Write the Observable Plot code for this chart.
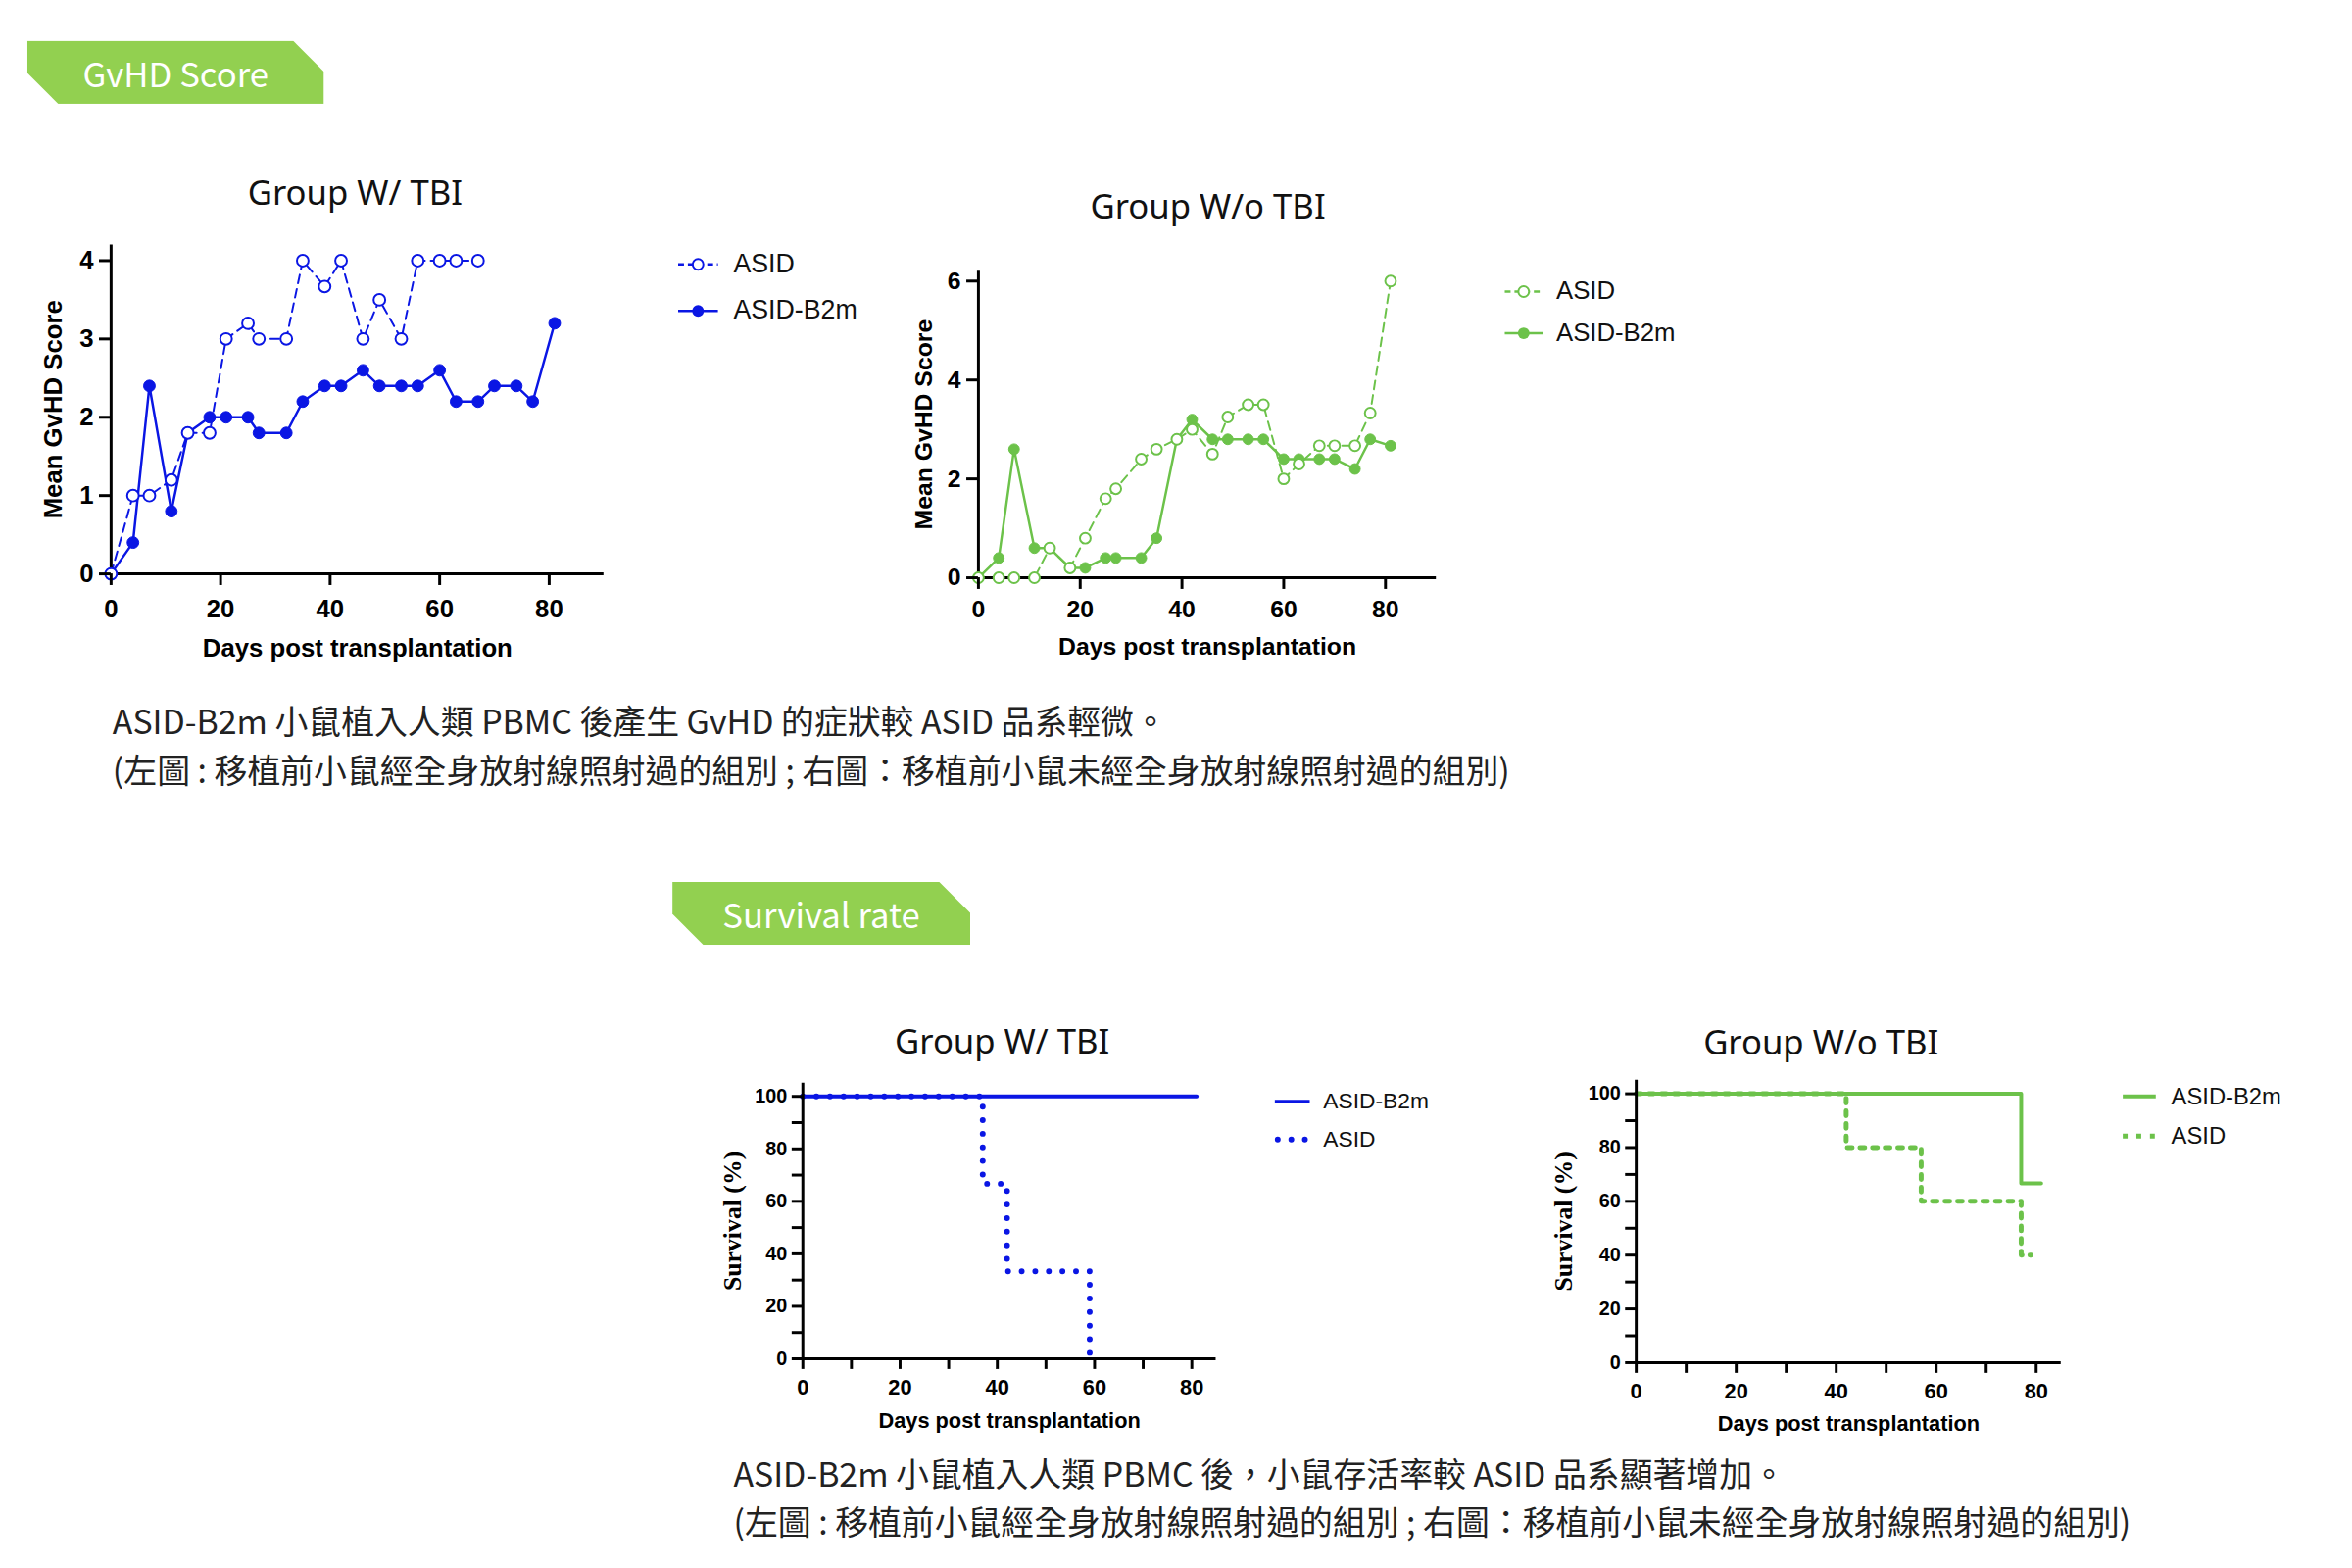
<!DOCTYPE html>
<html>
<head>
<meta charset="utf-8">
<script src="https://cdn.jsdelivr.net/npm/d3@7"></script>
<script src="https://cdn.jsdelivr.net/npm/@observablehq/plot@0.6"></script>
<style>
  body { margin: 0; background: #fff; }
  #root { position: relative; width: 2400px; height: 1600px; overflow: hidden; background: #fff; transform: scale(0.99); transform-origin: 0 0; }
  .abs { position: absolute; }
  .badge { position: absolute; background: #92d050; color: #fff; font-family: "Noto Sans CJK TC", "Noto Sans", sans-serif; font-size: 35px;
    display: flex; align-items: center; justify-content: center;
    clip-path: polygon(0 0, calc(100% - 32px) 0, 100% 32px, 100% 100%, 32px 100%, 0 calc(100% - 32px)); }
  .title { position: absolute; transform: translate(-50%, -50%); font-family: "Noto Sans", sans-serif; font-size: 35px; color: #111; white-space: nowrap; }
  .caption { position: absolute; font-family: "Noto Sans CJK TC", sans-serif; font-size: 34.2px; color: #222; white-space: nowrap; line-height: 50px; }
  .lrow { position: absolute; display: flex; align-items: center; white-space: nowrap; transform: translateY(-50%); font-family: "Liberation Sans", Arial, sans-serif; color: #111; }
</style>
</head>
<body>
<div id="root"></div>
<script>
// ---------------- DATA ----------------
const xTicks = [0, 20, 40, 60, 80];
const xMinorTicks = [10, 30, 50, 70];

// GvHD score, Group W/ TBI
const tbiAsidDays  = [0, 4, 7, 11, 14, 18, 21, 25, 27, 32, 35, 39, 42, 46, 49, 53, 56, 60, 63, 67];
const tbiAsidScore = [0, 1, 1, 1.2, 1.8, 1.8, 3, 3.2, 3, 3, 4, 3.67, 4, 3, 3.5, 3, 4, 4, 4, 4];
const tbiB2mDays   = [0, 4, 7, 11, 14, 18, 21, 25, 27, 32, 35, 39, 42, 46, 49, 53, 56, 60, 63, 67, 70, 74, 77, 81];
const tbiB2mScore  = [0, 0.4, 2.4, 0.8, 1.8, 2, 2, 2, 1.8, 1.8, 2.2, 2.4, 2.4, 2.6, 2.4, 2.4, 2.4, 2.6, 2.2, 2.2, 2.4, 2.4, 2.2, 3.2];
const tbiYTicks = [0, 1, 2, 3, 4];

// GvHD score, Group W/o TBI
const noTbiDays      = [0, 4, 7, 11, 14, 18, 21, 25, 27, 32, 35, 39, 42, 46, 49, 53, 56, 60, 63, 67, 70, 74, 77, 81];
const noTbiAsidScore = [0, 0, 0, 0, 0.6, 0.2, 0.8, 1.6, 1.8, 2.4, 2.6, 2.8, 3.0, 2.5, 3.25, 3.5, 3.5, 2.0, 2.3, 2.67, 2.67, 2.67, 3.33, 6];
const noTbiB2mScore  = [0, 0.4, 2.6, 0.6, 0.6, 0.2, 0.2, 0.4, 0.4, 0.4, 0.8, 2.8, 3.2, 2.8, 2.8, 2.8, 2.8, 2.4, 2.4, 2.4, 2.4, 2.2, 2.8, 2.67];
const noTbiYTicks = [0, 2, 4, 6];

// Survival, Group W/ TBI
const survTbiB2mDays  = [0, 81];
const survTbiB2mPct   = [100, 100];
const survTbiAsidDays = [0, 37, 42, 59];
const survTbiAsidPct  = [100, 66.7, 33.3, 0];

// Survival, Group W/o TBI
const survNoTbiB2mDays  = [0, 77, 81];
const survNoTbiB2mPct   = [100, 66.7, 66.7];
const survNoTbiAsidDays = [0, 42, 57, 77, 79];
const survNoTbiAsidPct  = [100, 80, 60, 40, 40];

const survYTicks = [0, 20, 40, 60, 80, 100];
const survYMinorTicks = [10, 30, 50, 70, 90];

const seriesNames = ["ASID", "ASID-B2m"];
const blue = "#0a16e4";
const green = "#6cc24a";

const texts = {
  badge1: "GvHD Score",
  badge2: "Survival rate",
  titleTbi: "Group W/ TBI",
  titleNoTbi: "Group W/o TBI",
  xLabel: "Days post transplantation",
  gvhdY: "Mean GvHD Score",
  survY: "Survival (%)",
  cap1a: "ASID-B2m 小鼠植入人類 PBMC 後產生 GvHD 的症狀較 ASID 品系輕微。",
  cap1b: "(左圖 : 移植前小鼠經全身放射線照射過的組別 ; 右圖：移植前小鼠未經全身放射線照射過的組別)",
  cap2a: "ASID-B2m 小鼠植入人類 PBMC 後，小鼠存活率較 ASID 品系顯著增加。",
  cap2b: "(左圖 : 移植前小鼠經全身放射線照射過的組別 ; 右圖：移植前小鼠未經全身放射線照射過的組別)"
};

// ---------------- HELPERS ----------------
const root = document.getElementById("root");
const zip = (xs, ys) => xs.map((d, i) => ({day: d, value: ys[i]}));
const intFmt = d3.format("d");

function place(node, left, top) {
  const div = document.createElement("div");
  div.className = "abs";
  div.style.left = left + "px";
  div.style.top = top + "px";
  div.appendChild(node);
  root.appendChild(div);
}
function badge(text, left, top, w, h) {
  const d = document.createElement("div");
  d.className = "badge";
  Object.assign(d.style, {left: left + "px", top: top + "px", width: w + "px", height: h + "px"});
  d.textContent = text;
  root.appendChild(d);
}
function title(text, cx, cy) {
  const d = document.createElement("div");
  d.className = "title";
  Object.assign(d.style, {left: cx + "px", top: cy + "px"});
  d.textContent = text;
  root.appendChild(d);
}
function caption(lines, left, top) {
  const d = document.createElement("div");
  d.className = "caption";
  Object.assign(d.style, {left: left + "px", top: top + "px"});
  d.innerHTML = lines.map(l => `<div>${l}</div>`).join("");
  root.appendChild(d);
}
function legendRow(symbolSvg, label, left, cy, symW, gap, fontSize) {
  const d = document.createElement("div");
  d.className = "lrow";
  Object.assign(d.style, {left: left + "px", top: cy + "px", fontSize: fontSize + "px"});
  d.innerHTML = `<svg width="${symW}" height="20" style="margin-right:${gap}px;overflow:visible">${symbolSvg}</svg><span>${label}</span>`;
  root.appendChild(d);
}
function markerSym(w, color, open) {
  const dash = open ? `stroke-dasharray="6,4"` : "";
  const c = open ? `<circle cx="${w/2}" cy="10" r="5.5" fill="#fff" stroke="${color}" stroke-width="2"/>`
                 : `<circle cx="${w/2}" cy="10" r="6" fill="${color}"/>`;
  return `<line x1="0" x2="${w}" y1="10" y2="10" stroke="${color}" stroke-width="2.5" ${dash}/>` + c;
}
function lineSym(w, color, kind) {
  if (kind === "solid") return `<line x1="0" x2="${w}" y1="10" y2="10" stroke="${color}" stroke-width="4"/>`;
  if (kind === "round") return `<line x1="3" x2="${w}" y1="10" y2="10" stroke="${color}" stroke-width="6" stroke-linecap="round" stroke-dasharray="0,14"/>`;
  return `<line x1="0" x2="${w}" y1="10" y2="10" stroke="${color}" stroke-width="5" stroke-dasharray="5,9"/>`;
}

function gvhdPlot(o) {
  const asid = zip(o.asidDays, o.asidScore);
  const b2m = zip(o.b2mDays, o.b2mScore);
  return Plot.plot({
    width: o.width, height: o.height,
    marginLeft: o.ml, marginRight: o.mr, marginTop: o.mt, marginBottom: o.mb,
    style: {fontFamily: "Liberation Sans, Arial, sans-serif", fontWeight: "bold", fontSize: o.fontSize + "px", color: "#000", background: "transparent", overflow: "visible"},
    x: {domain: [0, 90]},
    y: {domain: [0, o.yMax]},
    marks: [
      Plot.line(b2m, {x: "day", y: "value", stroke: o.color, strokeWidth: 2.5}),
      Plot.line(asid, {x: "day", y: "value", stroke: o.color, strokeWidth: 2, strokeDasharray: "9,6"}),
      Plot.ruleY([0], {strokeWidth: 3}),
      Plot.ruleX([0], {strokeWidth: 3}),
      Plot.dot(b2m, {x: "day", y: "value", r: o.r, fill: o.color, stroke: o.color, strokeWidth: 1}),
      Plot.dot(asid, {x: "day", y: "value", r: o.r, fill: "#fff", stroke: o.color, strokeWidth: 2}),
      Plot.axisX({ticks: xTicks, tickFormat: intFmt, tickSize: 12, tickPadding: o.xPad, strokeWidth: 3,
        label: texts.xLabel, labelAnchor: "center", labelArrow: "none", labelOffset: o.xLabelOffset}),
      Plot.axisY({ticks: o.yTicks, tickFormat: intFmt, tickSize: 12, tickPadding: 6, strokeWidth: 3,
        label: texts.gvhdY, labelAnchor: "center", labelArrow: "none", labelOffset: o.yLabelOffset})
    ]
  });
}

function survPlot(o) {
  const b2m = zip(o.b2mDays, o.b2mPct);
  const asid = zip(o.asidDays, o.asidPct);
  const asidStyle = o.dotStyle === "round"
    ? {strokeWidth: 6, strokeLinecap: "round", strokeDasharray: "0,14"}
    : {strokeWidth: 5, strokeDasharray: "5,8"};
  return Plot.plot({
    width: o.width, height: o.height,
    marginLeft: o.ml, marginRight: o.mr, marginTop: o.mt, marginBottom: o.mb,
    style: {fontFamily: "Liberation Sans, Arial, sans-serif", fontWeight: "bold", fontSize: "20px", color: "#000", background: "transparent", overflow: "visible"},
    x: {domain: [0, 85]},
    y: {domain: [0, 105]},
    marks: [
      Plot.line(b2m, {x: "day", y: "value", curve: "step-after", stroke: o.color, strokeWidth: 4}),
      Plot.line(asid, {x: "day", y: "value", curve: "step-after", stroke: o.color, ...asidStyle}),
      Plot.ruleY([0], {strokeWidth: 3}),
      Plot.ruleX([0], {strokeWidth: 3}),
      Plot.axisX({ticks: xTicks, tickFormat: intFmt, tickSize: 11, tickPadding: 10, strokeWidth: 3,
        label: texts.xLabel, labelAnchor: "center", labelArrow: "none", labelOffset: o.xLabelOffset, fontSize: 22}),
      Plot.axisX({ticks: xMinorTicks, tickSize: 11, strokeWidth: 3, tickFormat: () => "", label: null}),
      Plot.axisY({ticks: survYTicks, tickFormat: intFmt, tickSize: 11, tickPadding: 5, strokeWidth: 3, label: null}),
      Plot.axisY({ticks: survYMinorTicks, tickSize: 11, strokeWidth: 3, tickFormat: () => "", label: null}),
      Plot.axisY({ticks: [], label: texts.survY, labelAnchor: "center", labelArrow: "none", labelOffset: o.yLabelOffset,
        fontFamily: "Liberation Serif, Times New Roman, serif", fontSize: 26})
    ]
  });
}

// ---------------- LAYOUT ----------------
badge(texts.badge1, 28, 42, 306, 65);
badge(texts.badge2, 693, 909, 307, 65);

title(texts.titleTbi, 366, 198);
title(texts.titleNoTbi, 1245, 212);
title(texts.titleTbi, 1033, 1072);
title(texts.titleNoTbi, 1877, 1073);

place(gvhdPlot({width: 700, height: 480, ml: 114, mr: 78, mt: 22, mb: 119, yMax: 4.2, yTicks: tbiYTicks,
  color: blue, r: 6, fontSize: 26, xPad: 14, xLabelOffset: 85, yLabelOffset: 69,
  asidDays: tbiAsidDays, asidScore: tbiAsidScore, b2mDays: tbiB2mDays, b2mScore: tbiB2mScore}), 0, 230);

place(gvhdPlot({width: 640, height: 480, ml: 118, mr: 50, mt: 39, mb: 125, yMax: 6.2, yTicks: noTbiYTicks,
  color: green, r: 5.5, fontSize: 25, xPad: 11, xLabelOffset: 79, yLabelOffset: 66,
  asidDays: noTbiDays, asidScore: noTbiAsidScore, b2mDays: noTbiDays, b2mScore: noTbiB2mScore}), 890, 240);

place(survPlot({width: 620, height: 420, ml: 147, mr: 47, mt: 26, mb: 110, color: blue, dotStyle: "round",
  xLabelOffset: 71, yLabelOffset: 82,
  b2mDays: survTbiB2mDays, b2mPct: survTbiB2mPct, asidDays: survTbiAsidDays, asidPct: survTbiAsidPct}), 680, 1090);

place(survPlot({width: 620, height: 420, ml: 146, mr: 36, mt: 23, mb: 106, color: green, dotStyle: "square",
  xLabelOffset: 70, yLabelOffset: 85,
  b2mDays: survNoTbiB2mDays, b2mPct: survNoTbiB2mPct, asidDays: survNoTbiAsidDays, asidPct: survNoTbiAsidPct}), 1540, 1090);

// legends
legendRow(markerSym(41, blue, true), seriesNames[0], 699, 272, 41, 16, 27);
legendRow(markerSym(41, blue, false), seriesNames[1], 699, 320, 41, 16, 27);
legendRow(markerSym(39, green, true), seriesNames[0], 1551, 300, 39, 14, 26);
legendRow(markerSym(39, green, false), seriesNames[1], 1551, 343, 39, 14, 26);

legendRow(lineSym(36, blue, "solid"), seriesNames[1], 1314, 1135, 36, 14, 23);
legendRow(lineSym(36, blue, "round"), seriesNames[0], 1314, 1174, 36, 14, 23);
legendRow(lineSym(34, green, "solid"), seriesNames[1], 2188, 1130, 34, 16, 24);
legendRow(lineSym(34, green, "square"), seriesNames[0], 2188, 1171, 34, 16, 24);

caption([texts.cap1a, texts.cap1b], 116, 717);
caption([texts.cap2a, texts.cap2b], 756, 1492);
</script>
</body>
</html>
